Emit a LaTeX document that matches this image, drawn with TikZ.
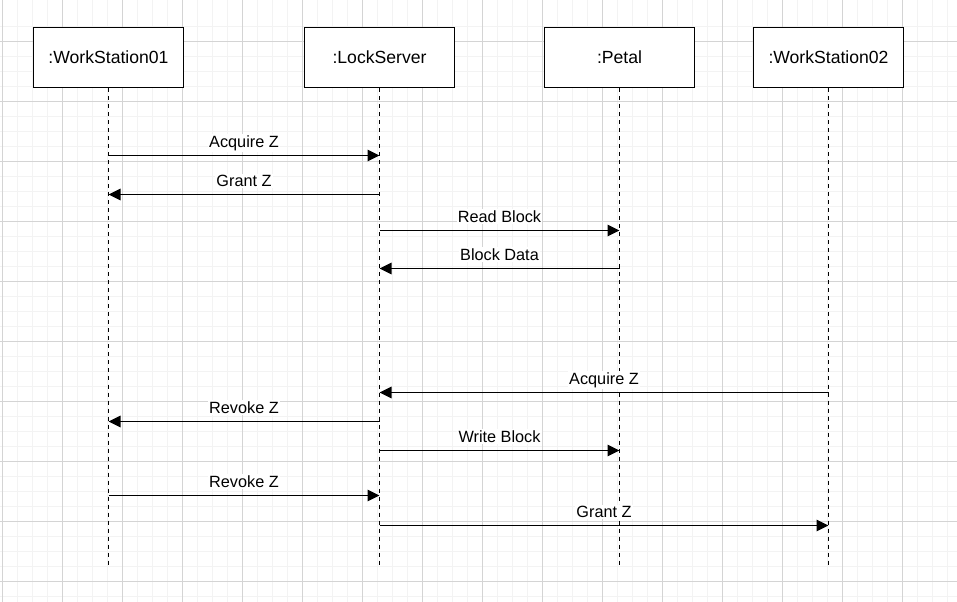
\documentclass[tikz,border=0pt]{standalone}
\usepackage{fontspec}
\setmainfont{Liberation Sans}
\usetikzlibrary{arrows.meta}
\definecolor{minorgrid}{HTML}{F3F3F3}
\definecolor{majorgrid}{HTML}{D4D4D4}
\tikzset{
  obj/.style={draw=black, line width=1.2pt, fill=white, minimum width=112.5pt, minimum height=45pt, inner sep=0pt, font=\fontsize{13.2}{16}\selectfont},
  lifeline/.style={draw=black, line width=1.1pt, dash pattern=on 3pt off 3pt},
  msg/.style={draw=black, line width=1.2pt, -{Triangle[length=9pt,width=8.5pt]}},
  lbl/.style={font=\fontsize{12.2}{14}\selectfont, anchor=base, yshift=6.2pt, inner sep=1pt, fill=white}
}
\begin{document}
\begin{tikzpicture}[x=0.75pt,y=-0.75pt]
\useasboundingbox (0,0) rectangle (957,602);
\fill[white] (0,0) rectangle (957,602);
% grid
\foreach \i in {0,...,64} {\draw[minorgrid, line width=0.75pt] (2.5+15*\i,0) -- (2.5+15*\i,602);}
\foreach \j in {-1,...,40} {\draw[minorgrid, line width=0.75pt] (0,41.5+15*\j) -- (957,41.5+15*\j);}
\foreach \i in {0,...,15} {\draw[majorgrid, line width=0.75pt] (2.5+60*\i,0) -- (2.5+60*\i,602);}
\foreach \j in {-1,...,9} {\draw[majorgrid, line width=0.75pt] (0,41.5+60*\j) -- (957,41.5+60*\j);}
% objects
\node[obj] (ws1) at (108.5,57.7) {:WorkStation01};
\node[obj] (ls) at (379.5,57.7) {:LockServer};
\node[obj] (petal) at (619.5,57.7) {:Petal};
\node[obj] (ws2) at (828.5,57.7) {:WorkStation02};
% lifeline ends
\coordinate (ws1e) at (108.5,567);
\coordinate (lse) at (379.5,567);
\coordinate (petale) at (619.5,567);
\coordinate (ws2e) at (828.5,567);
\draw[lifeline] (ws1.south) -- (ws1e);
\draw[lifeline] (ls.south) -- (lse);
\draw[lifeline] (petal.south) -- (petale);
\draw[lifeline] (ws2.south) -- (ws2e);
% messages
\draw[msg] (ws1.south |- 0,155.5) -- node[lbl]{Acquire Z} (ls.south |- 0,155.5);
\draw[msg] (ls.south |- 0,194.5) -- node[lbl]{Grant Z} (ws1.south |- 0,194.5);
\draw[msg] (ls.south |- 0,230.5) -- node[lbl]{Read Block} (petal.south |- 0,230.5);
\draw[msg] (petal.south |- 0,268.5) -- node[lbl]{Block Data} (ls.south |- 0,268.5);
\draw[msg] (ws2.south |- 0,392.5) -- node[lbl]{Acquire Z} (ls.south |- 0,392.5);
\draw[msg] (ls.south |- 0,421.5) -- node[lbl]{Revoke Z} (ws1.south |- 0,421.5);
\draw[msg] (ls.south |- 0,450.5) -- node[lbl]{Write Block} (petal.south |- 0,450.5);
\draw[msg] (ws1.south |- 0,495.5) -- node[lbl]{Revoke Z} (ls.south |- 0,495.5);
\draw[msg] (ls.south |- 0,525.5) -- node[lbl]{Grant Z} (ws2.south |- 0,525.5);
\end{tikzpicture}
\end{document}
